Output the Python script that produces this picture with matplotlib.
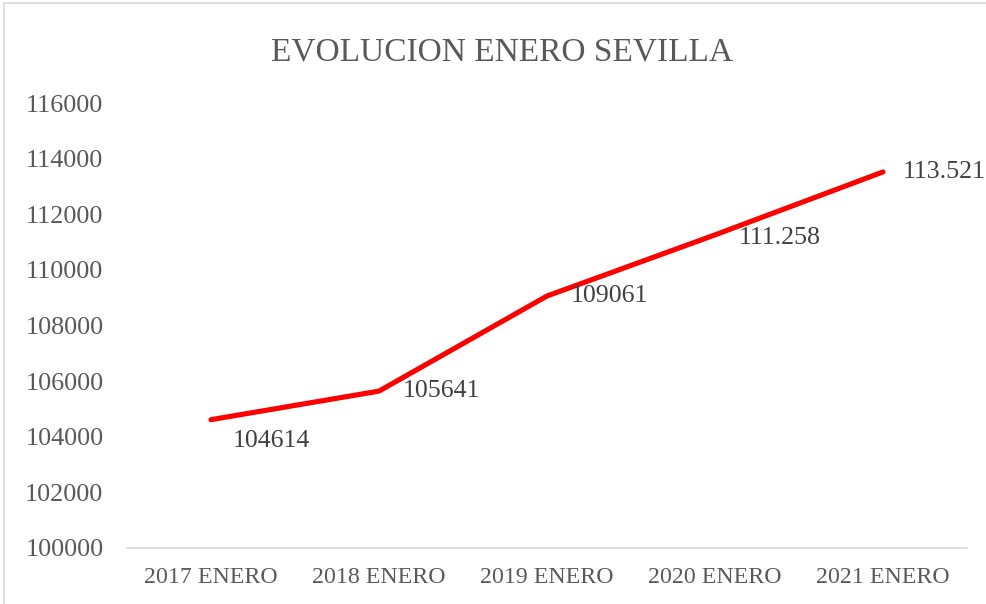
import matplotlib
matplotlib.use("Agg")
from matplotlib import pyplot as plt
from matplotlib.patches import Rectangle

# data
categories = ["2017 ENERO", "2018 ENERO", "2019 ENERO", "2020 ENERO", "2021 ENERO"]
values = [104614, 105641, 109061, 111258, 113521]
value_labels = ["104614", "105641", "109061", "111.258", "113.521"]
y_ticks = [100000, 102000, 104000, 106000, 108000, 110000, 112000, 114000, 116000]

plt.rcParams["font.family"] = ["Liberation Serif", "DejaVu Serif"]
text_color = "#595959"

fig = plt.figure(figsize=(9.87, 6.04), dpi=100)
ax = fig.add_axes([127 / 987, 1 - 548 / 604, 840 / 987, 445 / 604])

x = list(range(len(categories)))
ax.plot(x, values, color="#ff0000", linewidth=3.7, solid_capstyle="round",
        solid_joinstyle="round")

# data labels sit to the right of each point (first one a bit lower)
offsets = [(16, -15), (17, 0), (17, 0), (17, -2), (14.5, 0)]
for xi, v, lab, off in zip(x, values, value_labels, offsets):
    ax.annotate(lab, (xi, v), xytext=off, textcoords="offset points",
                ha="left", va="center", fontsize=18.6, color="#404040",
                annotation_clip=False)

ax.set_xlim(-0.5, len(categories) - 0.5)
ax.set_ylim(100000, 116000)
ax.set_yticks(y_ticks)
ax.set_yticklabels([str(t) for t in y_ticks])
ax.set_xticks(x)
ax.set_xticklabels(categories)

for s in ["top", "right", "left"]:
    ax.spines[s].set_visible(False)
ax.spines["bottom"].set_color("#d9d9d9")
ax.spines["bottom"].set_linewidth(1.2)
ax.tick_params(axis="both", length=0, labelcolor=text_color)
ax.tick_params(axis="y", pad=17, labelsize=18.8)
ax.tick_params(axis="x", pad=14, labelsize=17.2)

fig.text(502 / 987, 1 - 52 / 604, "EVOLUCION ENERO SEVILLA", ha="center",
         va="center", fontsize=24, color=text_color)

# chart border, partly cut off on the right and bottom
fig.patches.append(Rectangle((4 / 987, -0.1), 1.2, 1.1 - 3 / 604,
                             transform=fig.transFigure, fill=False,
                             edgecolor="#d9d9d9", linewidth=1.2))

fig.savefig("out.png", dpi=100)
